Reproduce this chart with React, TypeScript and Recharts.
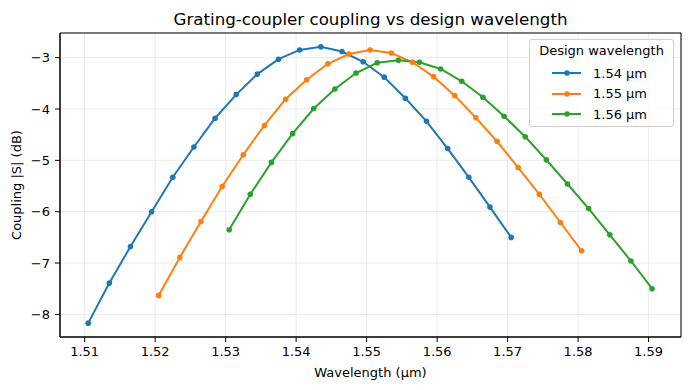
import {
  CartesianGrid,
  Legend,
  Line,
  LineChart,
  ReferenceArea,
  XAxis,
  YAxis,
} from "recharts";

const xTicks = [1.51, 1.52, 1.53, 1.54, 1.55, 1.56, 1.57, 1.58, 1.59];
const yTicks = [-8, -7, -6, -5, -4, -3];

const wl154 = [
  1.5105, 1.5135, 1.5165, 1.5195, 1.5225, 1.5255, 1.5285, 1.5315, 1.5345,
  1.5375, 1.5405, 1.5435, 1.5465, 1.5495, 1.5525, 1.5555, 1.5585, 1.5615,
  1.5645, 1.5675, 1.5705,
];
const db154 = [
  -8.17, -7.39, -6.68, -6.0, -5.33, -4.74, -4.18, -3.72, -3.32, -3.03, -2.85,
  -2.79, -2.88, -3.08, -3.38, -3.79, -4.24, -4.77, -5.33, -5.91, -6.5,
];

const wl155 = [
  1.5205, 1.5235, 1.5265, 1.5295, 1.5325, 1.5355, 1.5385, 1.5415, 1.5445,
  1.5475, 1.5505, 1.5535, 1.5565, 1.5595, 1.5625, 1.5655, 1.5685, 1.5715,
  1.5745, 1.5775, 1.5805,
];
const db155 = [
  -7.63, -6.89, -6.19, -5.51, -4.89, -4.32, -3.81, -3.43, -3.12, -2.93, -2.85,
  -2.91, -3.09, -3.37, -3.74, -4.17, -4.63, -5.14, -5.66, -6.21, -6.76,
];

const wl156 = [
  1.5305, 1.5335, 1.5365, 1.5395, 1.5425, 1.5455, 1.5485, 1.5515, 1.5545,
  1.5575, 1.5605, 1.5635, 1.5665, 1.5695, 1.5725, 1.5755, 1.5785, 1.5815,
  1.5845, 1.5875, 1.5905,
];
const db156 = [
  -6.35, -5.66, -5.04, -4.48, -3.99, -3.61, -3.3, -3.1, -3.05, -3.09, -3.22,
  -3.46, -3.77, -4.14, -4.54, -4.99, -5.46, -5.94, -6.45, -6.96, -7.5,
];

const series = [
  { name: "1.54 µm", color: "#1f77b4", x: wl154, y: db154 },
  { name: "1.55 µm", color: "#ff7f0e", x: wl155, y: db155 },
  { name: "1.56 µm", color: "#2ca02c", x: wl156, y: db156 },
];

const xDomain = [1.5065, 1.5946];
const yDomain = [-8.44, -2.52];
const font = "DejaVu Sans, sans-serif";

const minus = (v: number) => (v < 0 ? "\u2212" + Math.abs(v) : String(v));

function LegendBox() {
  return (
    <div
      style={{
        position: "absolute",
        left: 529,
        top: 39,
        width: 145,
        height: 88,
        border: "1px solid #d0d0d0",
        borderRadius: 3,
        background: "rgba(255,255,255,0.8)",
        fontFamily: font,
        fontSize: 13,
        color: "#000",
        boxSizing: "border-box",
      }}
    >
      <div style={{ position: "absolute", top: 3, left: 0, width: "100%", textAlign: "center" }}>
        Design wavelength
      </div>
      {series.map((s, i) => (
        <div
          key={s.name}
          style={{ position: "absolute", left: 22, top: 24 + i * 20.5, height: 18, display: "flex", alignItems: "center" }}
        >
          <svg width={30} height={10}>
            <line x1={0} y1={5} x2={29} y2={5} stroke={s.color} strokeWidth={2} />
            <circle cx={15} cy={5} r={2.8} fill={s.color} />
          </svg>
          <span style={{ marginLeft: 11 }}>{s.name}</span>
        </div>
      ))}
    </div>
  );
}

export default function App() {
  return (
    <div style={{ position: "absolute", left: 0, top: 0, width: 690, height: 390, background: "#fff" }}>
      <div
        style={{
          position: "absolute",
          top: 8.5,
          left: 60,
          width: 621,
          textAlign: "center",
          fontFamily: font,
          fontSize: 16.7,
          color: "#000",
        }}
      >
        Grating-coupler coupling vs design wavelength
      </div>
      <LineChart width={690} height={390} margin={{ top: 33, right: 9, left: 0, bottom: 0 }}>
        <CartesianGrid stroke="#e6e6e6" strokeWidth={0.8} ticks={xTicks} />
        <XAxis
          type="number"
          dataKey="x"
          domain={xDomain}
          allowDataOverflow
          ticks={xTicks}
          tickFormatter={(v: number) => v.toFixed(2)}
          tick={{ fill: "#000", fontSize: 13, fontFamily: font }}
          tickLine={{ stroke: "#000" }}
          tickSize={5}
          tickMargin={5}
          axisLine={{ stroke: "#000" }}
          height={53}
          label={{
            value: "Wavelength (µm)",
            position: "insideBottom",
            offset: 13,
            style: { fill: "#000", fontSize: 13, fontFamily: font },
          }}
        />
        <YAxis
          type="number"
          domain={yDomain}
          allowDataOverflow
          ticks={yTicks}
          tickFormatter={minus}
          tick={{ fill: "#000", fontSize: 13, fontFamily: font }}
          tickLine={{ stroke: "#000" }}
          tickSize={5}
          tickMargin={5}
          axisLine={{ stroke: "#000" }}
          width={60}
          label={{
            value: "Coupling |S| (dB)",
            angle: -90,
            position: "insideLeft",
            offset: 16,
            style: { fill: "#000", fontSize: 13, fontFamily: font, textAnchor: "middle" },
          }}
        />
        <ReferenceArea
          x1={xDomain[0]}
          x2={xDomain[1]}
          y1={yDomain[0]}
          y2={yDomain[1]}
          fill="none"
          stroke="#000"
          strokeWidth={1}
          ifOverflow="visible"
        />
        {series.map((s) => (
          <Line
            key={s.name}
            name={s.name}
            data={s.x.map((x, i) => ({ x, y: s.y[i] }))}
            dataKey="y"
            stroke={s.color}
            strokeWidth={2}
            dot={{ r: 2.8, fill: s.color, stroke: s.color, strokeWidth: 0 }}
            isAnimationActive={false}
          />
        ))}
        <Legend content={() => null} />
      </LineChart>
      <LegendBox />
    </div>
  );
}
